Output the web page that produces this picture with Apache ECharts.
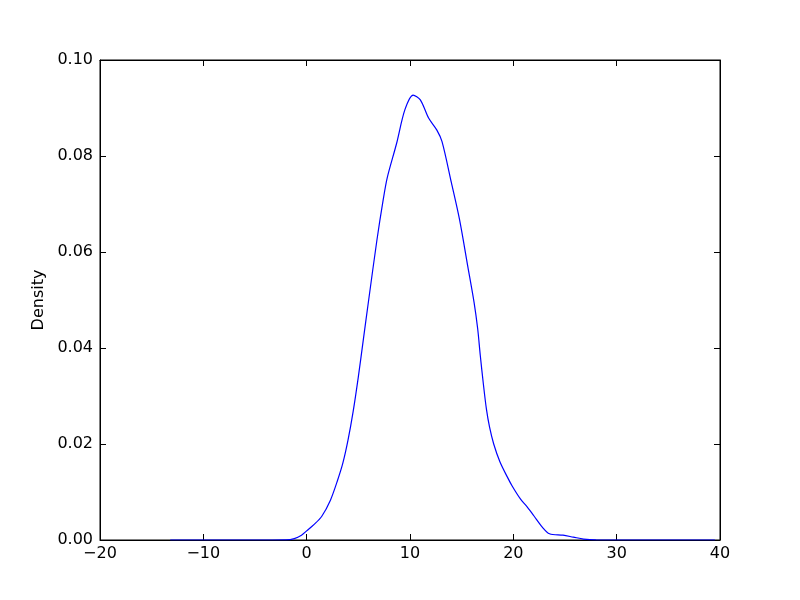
<!DOCTYPE html>
<html>
<head>
<meta charset="utf-8">
<script src="https://cdn.jsdelivr.net/npm/echarts@6/dist/echarts.min.js"></script>
<style>html,body{margin:0;padding:0;background:#fff}#c{width:800px;height:600px}</style>
</head>
<body>
<div id="c"></div>
<script>
const xValues = [-13.2, -8, -4, -2, -1.2, -0.5, 0, 0.7, 1.45, 2.3, 3.0, 3.5, 4.0, 4.5, 5.0, 5.5, 6.0, 6.8, 7.4, 7.8, 8.7, 9.5, 10.3, 11.0, 11.8, 12.6, 13.1, 14.0, 14.8, 15.6, 16.2, 16.55, 16.8, 17.1, 17.4, 17.7, 18.1, 18.7, 19.4, 19.9, 20.7, 21.3, 22.0, 22.8, 23.5, 24.8, 25.8, 26.8, 28, 32, 39.5];
const densityValues = [0, 0, 0, 0.00003, 0.0003, 0.001, 0.0019, 0.0032, 0.0049, 0.0083, 0.0125, 0.0160, 0.0208, 0.0268, 0.0340, 0.0420, 0.0500, 0.0625, 0.0708, 0.0755, 0.0826, 0.0896, 0.0927, 0.0917, 0.0879, 0.0854, 0.0830, 0.0745, 0.0667, 0.0569, 0.0495, 0.0440, 0.0385, 0.0325, 0.0272, 0.0235, 0.0200, 0.0163, 0.0132, 0.0112, 0.0085, 0.0070, 0.0050, 0.0027, 0.0013, 0.0010, 0.0006, 0.0002, 0.00003, 0, 0];
const xTicks = {min: -20, max: 40, interval: 10};
const yTicks = {min: 0, max: 0.1, interval: 0.02};
const yLabel = 'Density';

const font = 'DejaVu Sans';
const minus = v => String(v).replace('-', '\u2212');
const chart = echarts.init(document.getElementById('c'));
const tickStyle = {show: true, inside: true, length: 6, lineStyle: {color: '#000', width: 1}};
chart.setOption({
  animation: false,
  grid: {left: 100, right: 80, top: 60, bottom: 60, show: true, borderColor: '#000', borderWidth: 1, backgroundColor: 'transparent'},
  xAxis: [
    {type: 'value', position: 'bottom', min: xTicks.min, max: xTicks.max, interval: xTicks.interval,
     axisLine: {show: true, onZero: false, lineStyle: {color: '#000', width: 1}}, axisTick: tickStyle, splitLine: {show: false},
     axisLabel: {color: '#000', fontFamily: font, fontSize: 16, margin: 6, formatter: v => minus(v)}},
    {type: 'value', position: 'top', min: xTicks.min, max: xTicks.max, interval: xTicks.interval,
     axisLine: {show: true, onZero: false, lineStyle: {color: '#000', width: 1}}, axisTick: tickStyle, splitLine: {show: false}, axisLabel: {show: false}}
  ],
  yAxis: [
    {type: 'value', position: 'left', min: yTicks.min, max: yTicks.max, interval: yTicks.interval,
     name: yLabel, nameLocation: 'middle', nameGap: 46, nameTextStyle: {color: '#000', fontFamily: font, fontSize: 16},
     axisLine: {show: true, onZero: false, lineStyle: {color: '#000', width: 1}}, axisTick: tickStyle, splitLine: {show: false},
     axisLabel: {color: '#000', fontFamily: font, fontSize: 16, margin: 7, formatter: v => v.toFixed(2)}},
    {type: 'value', position: 'right', min: yTicks.min, max: yTicks.max, interval: yTicks.interval,
     axisLine: {show: true, onZero: false, lineStyle: {color: '#000', width: 1}}, axisTick: tickStyle, splitLine: {show: false}, axisLabel: {show: false}}
  ],
  series: [{
    type: 'line', xAxisIndex: 0, yAxisIndex: 0, smooth: 0.3, showSymbol: false,
    lineStyle: {color: '#0000ff', width: 1.2},
    data: xValues.map((x, i) => [x, densityValues[i]])
  }]
});
</script>
</body>
</html>
